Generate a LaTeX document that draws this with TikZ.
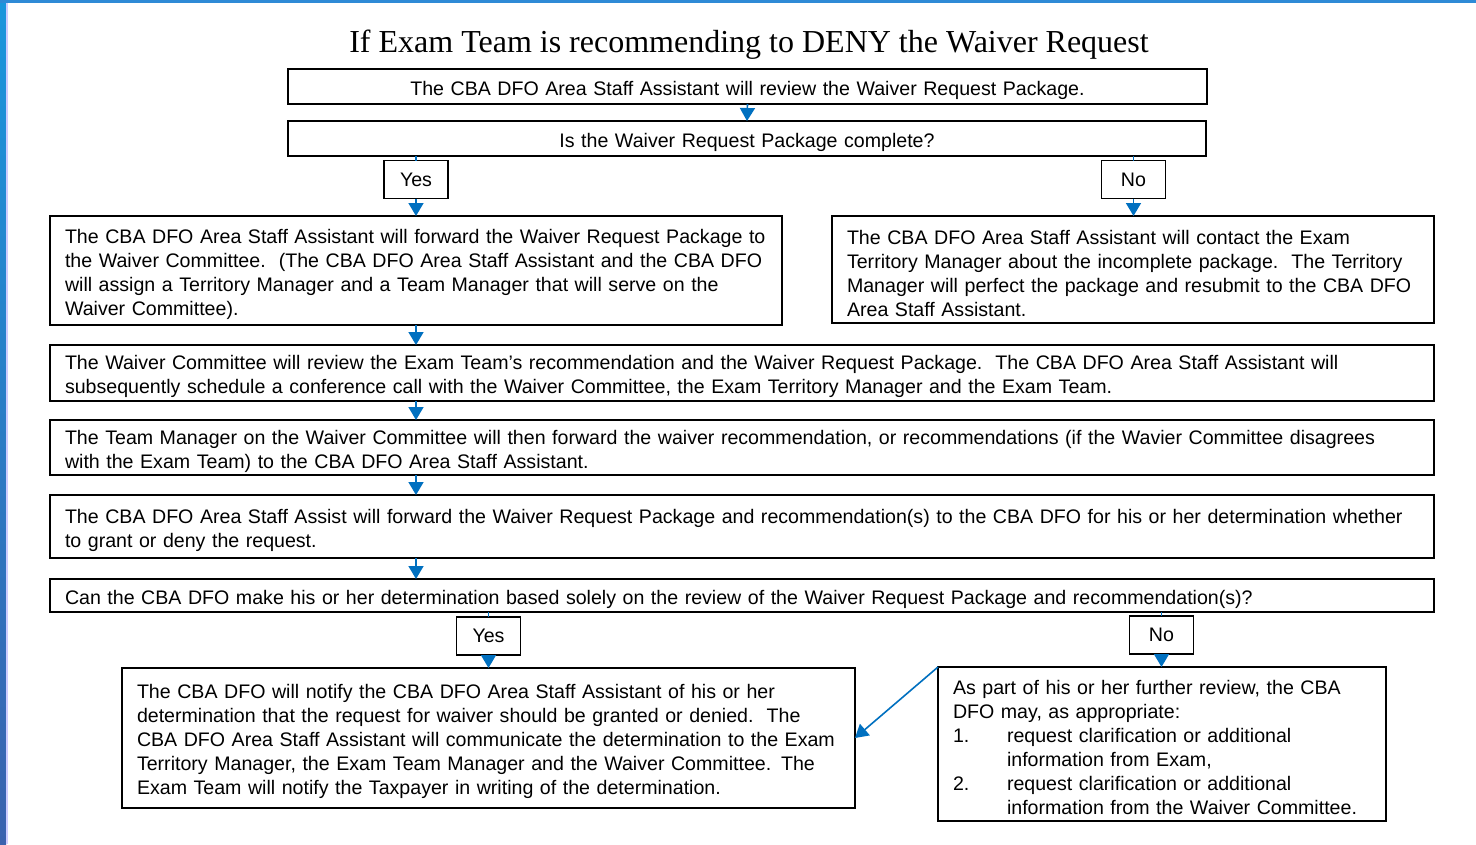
\documentclass[tikz,border=0pt]{standalone}
\usepackage{fontspec}
\usetikzlibrary{arrows.meta}
\newfontfamily\bodyfamily{Liberation Sans}
\newfontfamily\titlefamily{Liberation Serif}
\definecolor{arrowblue}{HTML}{0070C0}
\definecolor{bartop}{HTML}{1A96DC}
\definecolor{barbot}{HTML}{3A62AE}
\definecolor{topline}{HTML}{2E8AD6}
\begin{document}
\begin{tikzpicture}[x=1pt,y=-1pt,
  box/.style={draw=black, line width=1.6pt, inner xsep=15pt, inner ysep=0pt, outer sep=0pt,
    anchor=north west, align=left, font=\bodyfamily\fontsize{19.6}{24}\selectfont,
    execute at begin node={\rule{0pt}{22pt}}},
  tag/.style={draw=black, line width=1.6pt, inner sep=0pt, outer sep=0pt,
    minimum width=64pt, minimum height=38pt, text height=14pt, text depth=1pt,
    font=\bodyfamily\fontsize{19.6}{24}\selectfont},
  arr/.style={draw=arrowblue, line width=1.6pt, -{Triangle[length=13pt,width=15pt]}},
  link/.style={draw=arrowblue, line width=1.6pt}]
\useasboundingbox (0,0) rectangle (1476,844);
\fill[white] (0,0) rectangle (1476,844);
\shade[top color=bartop, bottom color=barbot] (0,0) rectangle (6,844);
\fill[white!80!blue] (6,0) rectangle (7.5,844);
\fill[topline] (0,0) rectangle (1476,2.5);

\node[font=\titlefamily\fontsize{32}{38}\selectfont] (title) at (749,45) {If Exam Team is recommending to DENY the Waiver Request};

\node[box, align=center, text width=889pt, minimum height=35pt] (b1) at (288,69)
  {The CBA DFO Area Staff Assistant will review the Waiver Request Package.};
\node[box, align=center, text width=888pt, minimum height=35pt] (b2) at (288,121)
  {Is the Waiver Request Package complete?};
\node[tag] (yes1) at (416,179.5) {Yes};
\node[tag] (no1) at (1133.5,179.5) {No};
\node[box, text width=702pt, minimum height=109pt] (b3) at (50,216)
  {The CBA DFO Area Staff Assistant will forward the Waiver Request Package to\\
   the Waiver Committee.\ \ (The CBA DFO Area Staff Assistant and the CBA DFO\\
   will assign a Territory Manager and a Team Manager that will serve on the\\
   Waiver Committee).};
\node[box, text width=572pt, minimum height=107pt] (b4) at (832,216)
  {The CBA DFO Area Staff Assistant will contact the Exam\\
   Territory Manager about the incomplete package.\ \ The Territory\\
   Manager will perfect the package and resubmit to the CBA DFO\\
   Area Staff Assistant.};
\node[box, text width=1354pt, minimum height=56pt] (b5) at (50,345)
  {The Waiver Committee will review the Exam Team’s recommendation and the Waiver Request Package.\ \ The CBA DFO Area Staff Assistant will\\
   subsequently schedule a conference call with the Waiver Committee, the Exam Territory Manager and the Exam Team.};
\node[box, text width=1354pt, minimum height=55pt] (b6) at (50,420)
  {The Team Manager on the Waiver Committee will then forward the waiver recommendation, or recommendations (if the Wavier Committee disagrees\\
   with the Exam Team) to the CBA DFO Area Staff Assistant.};
\node[box, text width=1354pt, minimum height=63pt] (b7) at (50,495)
  {The CBA DFO Area Staff Assist will forward the Waiver Request Package and recommendation(s) to the CBA DFO for his or her determination whether\\
   to grant or deny the request.};
\node[box, text width=1354pt, minimum height=33pt] (b8) at (50,579)
  {Can the CBA DFO make his or her determination based solely on the review of the Waiver Request Package and recommendation(s)?};
\node[tag] (yes2) at (488.5,636) {Yes};
\node[tag] (no2) at (1161.5,635) {No};
\node[box, text width=703pt, minimum height=140pt] (b9) at (122,668)
  {The CBA DFO will notify the CBA DFO Area Staff Assistant of his or her\\
   determination that the request for waiver should be granted or denied.\ \ The\\
   CBA DFO Area Staff Assistant will communicate the determination to the Exam\\
   Territory Manager, the Exam Team Manager and the Waiver Committee. The\\
   Exam Team will notify the Taxpayer in writing of the determination.};
\node[box, text width=418pt, minimum height=154pt] (b10) at (938,667)
  {As part of his or her further review, the CBA\\
   DFO may, as appropriate:\\
   \makebox[54pt][l]{1.}request clarification or additional\\
   \hspace*{54pt}information from Exam,\\
   \makebox[54pt][l]{2.}request clarification or additional\\
   \hspace*{54pt}information from the Waiver Committee.};

\draw[arr] (b1.south) -- (b2.north);
\draw[link] (yes1.north |- b2.south) -- (yes1.north);
\draw[link] (no1.north |- b2.south) -- (no1.north);
\draw[arr] (yes1.south) -- (yes1.south |- b3.north);
\draw[arr] (no1.south) -- (no1.south |- b4.north);
\draw[arr] (yes1.south |- b3.south) -- (yes1.south |- b5.north);
\draw[arr] (yes1.south |- b5.south) -- (yes1.south |- b6.north);
\draw[arr] (yes1.south |- b6.south) -- (yes1.south |- b7.north);
\draw[arr] (yes1.south |- b7.south) -- (yes1.south |- b8.north);
\draw[link] (yes2.north |- b8.south) -- (yes2.north);
\draw[link] (no2.north |- b8.south) -- (no2.north);
\draw[arr] (yes2.south) -- (yes2.south |- b9.north);
\draw[arr] (no2.south) -- (no2.south |- b10.north);
\draw[arr] (b10.north west) -- (b9.east);
\end{tikzpicture}
\end{document}
